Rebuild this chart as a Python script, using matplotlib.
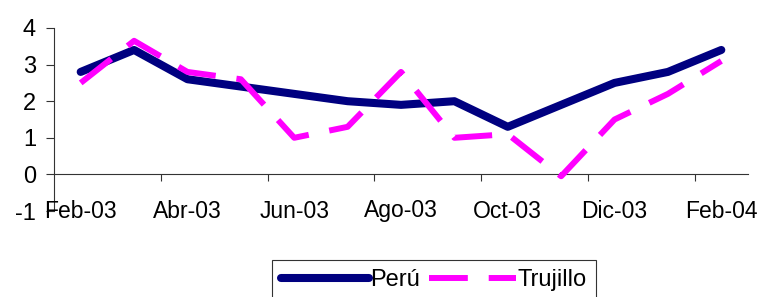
import matplotlib
matplotlib.use("Agg")
import matplotlib.pyplot as plt
import numpy as np

months = ["Feb-03", "Mar-03", "Abr-03", "May-03", "Jun-03", "Jul-03", "Ago-03",
          "Sep-03", "Oct-03", "Nov-03", "Dic-03", "Ene-04", "Feb-04"]
peru = [2.8, 3.4, 2.6, 2.4, 2.2, 2.0, 1.9, 2.0, 1.3, 1.9, 2.5, 2.8, 3.4]
trujillo = [2.5, 3.65, 2.8, 2.6, 1.0, 1.3, 2.8, 1.0, 1.1, -0.05, 1.5, 2.2, 3.1]
y_ticks = [-1, 0, 1, 2, 3, 4]
label_every = 2

plt.rcParams['font.family'] = ['Liberation Sans', 'DejaVu Sans']

fig = plt.figure(figsize=(7.62, 2.97), dpi=100)
ax = fig.add_axes([54/762, 1 - 211/297, (748 - 54)/762, (211 - 28)/297])

x = np.arange(len(months))
ax.plot(x, peru, color='#000080', lw=5.8, solid_capstyle='round',
        solid_joinstyle='round', label='Perú', zorder=3)
ax.plot(x, trujillo, color='#FF00FF', lw=4.3, dashes=(6.5, 3.5),
        dash_capstyle='butt', label='Trujillo', zorder=4)

ax.set_xlim(-0.5, len(months) - 0.5)
ax.set_ylim(-1, 4)
ax.set_yticks(y_ticks)
ax.set_yticklabels([str(v) for v in y_ticks], fontsize=17)
ax.tick_params(axis='y', direction='out', length=6, width=0.8, pad=7,
               color='#333333')

for s in ['top', 'right']:
    ax.spines[s].set_visible(False)
ax.spines['left'].set_color('#333333')
ax.spines['left'].set_linewidth(0.8)
ax.spines['bottom'].set_position(('data', 0))
ax.spines['bottom'].set_color('#333333')
ax.spines['bottom'].set_linewidth(0.8)

boundaries = np.arange(1.5, len(months) - 0.5, label_every)
ax.set_xticks(boundaries)
ax.set_xticklabels([])
ax.tick_params(axis='x', direction='out', length=5, width=0.8, color='#333333')

for i in range(0, len(months), label_every):
    ax.text(i, 0, months[i], transform=ax.get_xaxis_transform(),
            ha='center', va='center', fontsize=16.5)

leg = fig.legend(loc='upper center', bbox_to_anchor=(434/762, 1 - 260/297),
                 ncol=2, fontsize=17, handlelength=3.7, handletextpad=0.05,
                 columnspacing=0.4, borderpad=0.4, borderaxespad=0,
                 fancybox=False, framealpha=1, edgecolor='#333333')
leg.get_frame().set_linewidth(0.8)

fig.savefig('out.png', dpi=100)
